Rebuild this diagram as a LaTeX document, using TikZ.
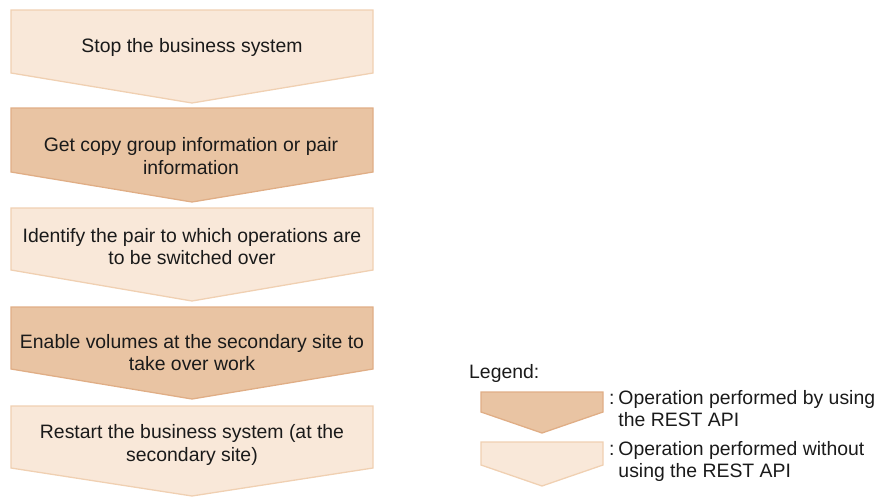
\documentclass[tikz,border=0pt]{standalone}
\usepackage{fontspec}
\setmainfont{Liberation Sans}
\definecolor{darkfill}{HTML}{E9C4A3}
\definecolor{darkline}{HTML}{E0AE86}
\definecolor{lightfill}{HTML}{F9E8D9}
\definecolor{lightline}{HTML}{F0D0B2}
\definecolor{txt}{HTML}{1A1A1A}
\begin{document}
\begin{tikzpicture}[x=1pt,y=-1pt,
  darkstep/.style={fill=darkfill,draw=darkline,line width=1.3pt,line join=miter},
  lightstep/.style={fill=lightfill,draw=lightline,line width=1.3pt,line join=miter},
  lbl/.style={text=txt,align=center,font=\fontsize{19.4}{22.5}\selectfont,inner sep=0pt},
  leg/.style={text=txt,align=left,anchor=west,font=\fontsize{19.4}{22}\selectfont,inner sep=0pt}]
\useasboundingbox (0,0) rectangle (883,498);
% flow shapes
\draw[lightstep] (11,10) -- (373,10) -- (373,73) -- (192,103) -- (11,73) -- cycle;
\draw[darkstep] (11,108) -- (373,108) -- (373,172) -- (192,202) -- (11,172) -- cycle;
\draw[lightstep] (11,208) -- (373,208) -- (373,270) -- (192,301) -- (11,270) -- cycle;
\draw[darkstep] (11,307) -- (373,307) -- (373,369) -- (192,399) -- (11,369) -- cycle;
\draw[lightstep] (11,406) -- (373,406) -- (373,468) -- (192,496) -- (11,468) -- cycle;
% texts
\node[lbl] (s1) at (192,47) {Stop the business system};
\node[lbl] (s2) at (191,156) {Get copy group information or pair\\information};
\node[lbl] (s3) at (192,246.5) {Identify the pair to which operations are\\to be switched over};
\node[lbl] (s4) at (192,352.5) {Enable volumes at the secondary site to\\take over work};
\node[lbl] (s5) at (192,445) {Restart the business system (at the\\secondary site)};
% legend
\node[leg] (lg) at (469,373) {Legend:};
\draw[darkstep] (481,392) -- (603,392) -- (603,412) -- (542,433) -- (481,412) -- cycle;
\draw[lightstep] (481,442) -- (603,442) -- (603,465) -- (542,486) -- (481,465) -- cycle;
\node[leg] (l1) at (609,409) {:\hspace{0.2em}Operation performed by using\\\phantom{:}\hspace{0.2em}the REST API};
\node[leg] (l2) at (609,461) {:\hspace{0.2em}Operation performed without\\\phantom{:}\hspace{0.2em}using the REST API};
\end{tikzpicture}
\end{document}
